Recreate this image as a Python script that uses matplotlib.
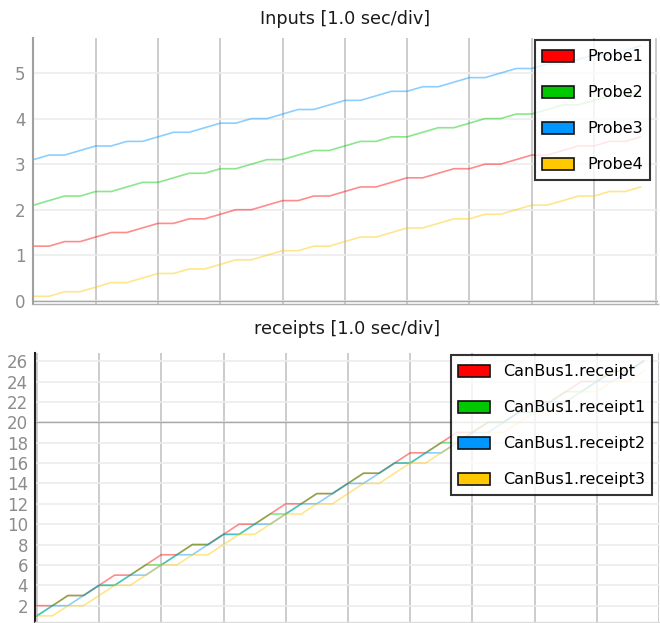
import matplotlib
matplotlib.use("Agg")
import matplotlib.pyplot as plt
from matplotlib.patches import Rectangle
from matplotlib.legend_handler import HandlerPatch
import numpy as np

plt.rcParams['font.family'] = ['DejaVu Sans']

# ---- data (sampled every 0.25 s) ----
time_s = [0.25 * k for k in range(40)]

probe1 = [1.2, 1.2, 1.3, 1.3, 1.4, 1.5, 1.5, 1.6, 1.7, 1.7,
          1.8, 1.8, 1.9, 2.0, 2.0, 2.1, 2.2, 2.2, 2.3, 2.3,
          2.4, 2.5, 2.5, 2.6, 2.7, 2.7, 2.8, 2.9, 2.9, 3.0,
          3.0, 3.1, 3.2, 3.2, 3.3, 3.4, 3.4, 3.5, 3.5, 3.6]
probe2 = [2.1, 2.2, 2.3, 2.3, 2.4, 2.4, 2.5, 2.6, 2.6, 2.7,
          2.8, 2.8, 2.9, 2.9, 3.0, 3.1, 3.1, 3.2, 3.3, 3.3,
          3.4, 3.5, 3.5, 3.6, 3.6, 3.7, 3.8, 3.8, 3.9, 4.0,
          4.0, 4.1, 4.1, 4.2, 4.3, 4.3, 4.4, 4.5, 4.5, 4.6]
probe3 = [3.1, 3.2, 3.2, 3.3, 3.4, 3.4, 3.5, 3.5, 3.6, 3.7,
          3.7, 3.8, 3.9, 3.9, 4.0, 4.0, 4.1, 4.2, 4.2, 4.3,
          4.4, 4.4, 4.5, 4.6, 4.6, 4.7, 4.7, 4.8, 4.9, 4.9,
          5.0, 5.1, 5.1, 5.2, 5.2, 5.3, 5.4, 5.4, 5.5, 5.6]
probe4 = [0.1, 0.1, 0.2, 0.2, 0.3, 0.4, 0.4, 0.5, 0.6, 0.6,
          0.7, 0.7, 0.8, 0.9, 0.9, 1.0, 1.1, 1.1, 1.2, 1.2,
          1.3, 1.4, 1.4, 1.5, 1.6, 1.6, 1.7, 1.8, 1.8, 1.9,
          1.9, 2.0, 2.1, 2.1, 2.2, 2.3, 2.3, 2.4, 2.4, 2.5]

receipt0 = [2, 2, 3, 3, 4, 5, 5, 6, 7, 7, 8, 8, 9, 10, 10, 11, 12, 12, 13, 13,
            14, 15, 15, 16, 17, 17, 18, 19, 19, 20, 20, 21, 22, 22, 23, 24, 24, 25, 25, 26]
receipt1 = [1, 2, 3, 3, 4, 4, 5, 6, 6, 7, 8, 8, 9, 9, 10, 11, 11, 12, 13, 13,
            14, 15, 15, 16, 16, 17, 18, 18, 19, 20, 20, 21, 21, 22, 23, 23, 24, 25, 25, 26]
receipt2 = [1, 2, 2, 3, 4, 4, 5, 5, 6, 7, 7, 8, 9, 9, 10, 10, 11, 12, 12, 13,
            14, 14, 15, 16, 16, 17, 17, 18, 19, 19, 20, 21, 21, 22, 22, 23, 24, 24, 25, 26]
receipt3 = [1, 1, 2, 2, 3, 4, 4, 5, 6, 6, 7, 7, 8, 9, 9, 10, 11, 11, 12, 12,
            13, 14, 14, 15, 16, 16, 17, 18, 18, 19, 19, 20, 21, 21, 22, 23, 23, 24, 24, 25]

top_labels = ["Probe1", "Probe2", "Probe3", "Probe4"]
bottom_labels = ["CanBus1.receipt", "CanBus1.receipt1", "CanBus1.receipt2", "CanBus1.receipt3"]
colors = ["#ff0000", "#00c800", "#0096ff", "#ffc800"]

top_title = "Inputs [1.0 sec/div]"
bottom_title = "receipts [1.0 sec/div]"
top_yticks = [0, 1, 2, 3, 4, 5]
bottom_yticks = list(range(2, 27, 2))
x_divs = list(range(0, 11))

W, H = 660, 623
fig = plt.figure(figsize=(W / 100, H / 100), dpi=100)


def px_axes(l, t, r, b):
    return fig.add_axes([l / W, 1 - b / H, (r - l) / W, (b - t) / H])


ax1 = px_axes(32.5, 38, 657.5, 304)
ax2 = px_axes(35, 353, 659, 622)


def rect_patch(legend, orig_handle, xdescent, ydescent, width, height, fontsize):
    h = 0.75 * fontsize
    return Rectangle((-xdescent, -ydescent + (height - h) / 2), width, h)


def style(ax, yticks, ylim, xlim, left_color, dark_line):
    ax.set_xlim(*xlim)
    ax.set_ylim(*ylim)
    ax.set_xticks(x_divs)
    ax.set_xticklabels([])
    ax.set_yticks(yticks)
    ax.tick_params(axis='both', length=0)
    ax.tick_params(axis='y', labelsize=12, labelcolor='#8c8c8c', pad=5)
    ax.grid(axis='x', color='#cccccc', lw=1.4, zorder=0)
    ax.grid(axis='y', color='#ececec', lw=1.2, zorder=0)
    ax.axhline(dark_line, color='#a8a8a8', lw=1.0, zorder=1)
    for s in ['top', 'right']:
        ax.spines[s].set_visible(False)
    ax.spines['left'].set_color(left_color)
    ax.spines['left'].set_linewidth(1.5)
    ax.spines['bottom'].set_color('#b0b0b0')
    ax.spines['bottom'].set_linewidth(1.0)
    ax.set_axisbelow(True)


style(ax1, top_yticks, (-0.07, 5.77), (-0.015, 10.02), '#a0a0a0', 0)
style(ax2, bottom_yticks, (0.4, 26.8), (-0.03, 10.0), '#202020', 20)
ax2.spines['bottom'].set_color('#dddddd')

for ys, c, lab in zip([probe1, probe2, probe3, probe4], colors, top_labels):
    ax1.plot(time_s, ys, color=c, alpha=0.45, lw=1.2, zorder=2)
for ys, c, lab in zip([receipt0, receipt1, receipt2, receipt3], colors, bottom_labels):
    ax2.plot(time_s, ys, color=c, alpha=0.45, lw=1.2, zorder=2)

ax1.set_title(top_title, fontsize=12.7, color='#1a1a1a', pad=10)
ax2.set_title(bottom_title, fontsize=12.7, color='#1a1a1a', pad=14)


def add_legend(ax, labels, anchor):
    handles = [Rectangle((0, 0), 1, 1, facecolor=c, edgecolor='#111111', lw=1.2) for c in colors]
    leg = ax.legend(handles, labels, loc='upper right', bbox_to_anchor=anchor,
                    borderaxespad=0, fontsize=11.5, handlelength=2.0, handleheight=1.5,
                    labelspacing=1.03, borderpad=0.4, handletextpad=0.85,
                    fancybox=False, framealpha=0.8, edgecolor='black',
                    handler_map={Rectangle: HandlerPatch(patch_func=rect_patch)})
    leg.get_frame().set_linewidth(1.5)
    leg.set_zorder(5)
    return leg


add_legend(ax1, top_labels, (0.9872, 0.9925))
add_legend(ax2, bottom_labels, (0.9888, 0.9926))

fig.savefig("out.png", dpi=100)
